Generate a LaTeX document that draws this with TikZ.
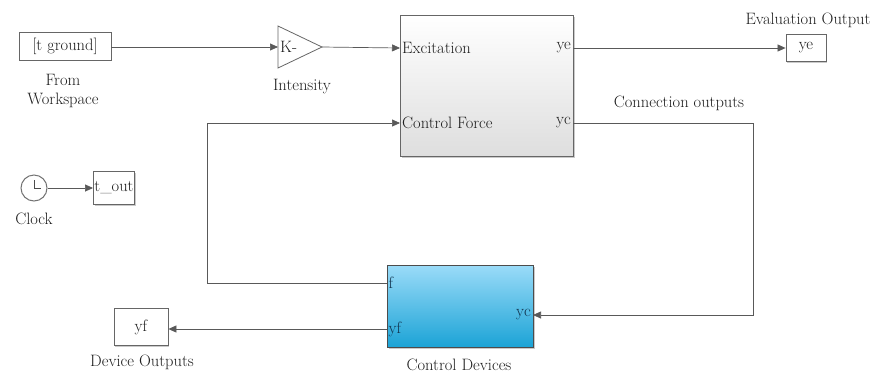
\documentclass[tikz,border=0pt]{standalone}
\usetikzlibrary{arrows.meta,shadows,calc}
\definecolor{devtop}{HTML}{9ADBF8}
\definecolor{devmid}{HTML}{6CC8F0}
\definecolor{devbot}{HTML}{1BA3D6}
\definecolor{devtext}{HTML}{12344F}
\definecolor{inktext}{HTML}{1E1E1E}
\begin{document}
\begin{tikzpicture}[x=1pt,y=-1pt,
  every node/.style={font=\fontsize{16.5}{18}\selectfont, text=inktext},
  wire/.style={draw=black!65, line width=0.7pt},
  sig/.style={wire, -{Triangle[length=8pt,width=7pt]}},
  blk/.style={draw=black!60, line width=0.8pt, fill=white, inner sep=0pt,
    drop shadow={shadow xshift=1.2pt, shadow yshift=-1.2pt, opacity=0.35, fill=black!60}},
  lbl/.style={inner sep=1pt},
  port/.style={inner sep=2pt}
]
\useasboundingbox (0,0) rectangle (875,376);

% --- blocks ---
\node[blk, minimum width=92pt, minimum height=28pt] (ws) at (65,46) {[t ground]};
\node[lbl, align=center] (wslbl) at (63,91) {From\\[1pt]Workspace};

\draw[draw=black!60, line width=0.8pt, fill=white] (278,26) coordinate (gtop)
  -- (322,47) coordinate (gainout) -- (278,68) coordinate (gbot) -- cycle;
\coordinate (gainin) at (278,47);
\node[port, anchor=west, inner sep=1pt] (gaink) at (279,47) {K-};
\node[lbl] (gainlbl) at (302,87) {Intensity};

\node[blk, minimum width=173pt, minimum height=141pt, top color=white, bottom color=black!13,
  anchor=north west] (sys) at (400,15) {};
\coordinate (sysexc) at (400,48);
\coordinate (syscf) at (400,123);
\coordinate (sysye) at (573,48);
\coordinate (sysyc) at (573,123);
\node[port, anchor=west] (pexc) at (sysexc) {Excitation};
\node[port, anchor=west] (pcf) at (syscf) {Control Force};
\node[port, anchor=east] (pye) at (sysye) {ye};
\node[port, anchor=east] (pyc) at (sysyc) {yc};

\node[blk, minimum width=40pt, minimum height=27pt] (ye) at (806,48) {ye};
\node[lbl] (yelbl) at (808,20) {Evaluation Output};
\node[lbl] (conlbl) at (679,103) {Connection outputs};

\node[blk, minimum width=146pt, minimum height=82pt, top color=devtop, middle color=devmid,
  bottom color=devbot, draw=black!70, anchor=north west] (cd) at (387,265) {};
\coordinate (cdf) at (387,283);
\coordinate (cdyf) at (387,329);
\coordinate (cdyc) at (533,315);
\node[port, anchor=west, text=devtext, inner sep=1.5pt] (pf) at (cdf) {f};
\node[port, anchor=west, text=devtext, inner sep=1.5pt] (pyf) at (cdyf) {yf};
\node[port, anchor=east, text=devtext] (pcdyc) at (cdyc) {yc};
\node[lbl] (cdlbl) at (459,365) {Control Devices};

\node[blk, minimum width=54pt, minimum height=37pt] (yf) at (141,327) {yf};
\node[lbl] (yflbl) at (142,362) {Device Outputs};

\node[draw=black!55, line width=1pt, circle, minimum size=26pt, inner sep=0pt, fill=white] (clk) at (34,188) {};
\draw[black!70, line width=0.9pt] (clk.center) -- ++(0,-8) (clk.center) -- ++(7,0);
\node[lbl] (clklbl) at (34,219) {Clock};
\node[blk, minimum width=41pt, minimum height=33pt, inner sep=1pt] (tout) at (114,188) {t\_out};

% --- routing corners ---
\coordinate (ycturn) at (753,123);
\coordinate (fturn) at (207,283);

% --- connectors ---
\draw[sig] (ws.east |- gainin) -- (gainin);
\draw[sig] (gainout) -- (sysexc);
\draw[sig] (sysye) -- (ye.west);
\draw[sig] (sysyc) -- (ycturn) -- (ycturn |- cdyc) -- (cdyc);
\draw[sig] (cdf) -- (fturn) -- (fturn |- syscf) -- (syscf);
\draw[sig] (cdyf) -- (yf.east |- cdyf);
\draw[sig] (clk.east) -- (tout.west);
\end{tikzpicture}
\end{document}
